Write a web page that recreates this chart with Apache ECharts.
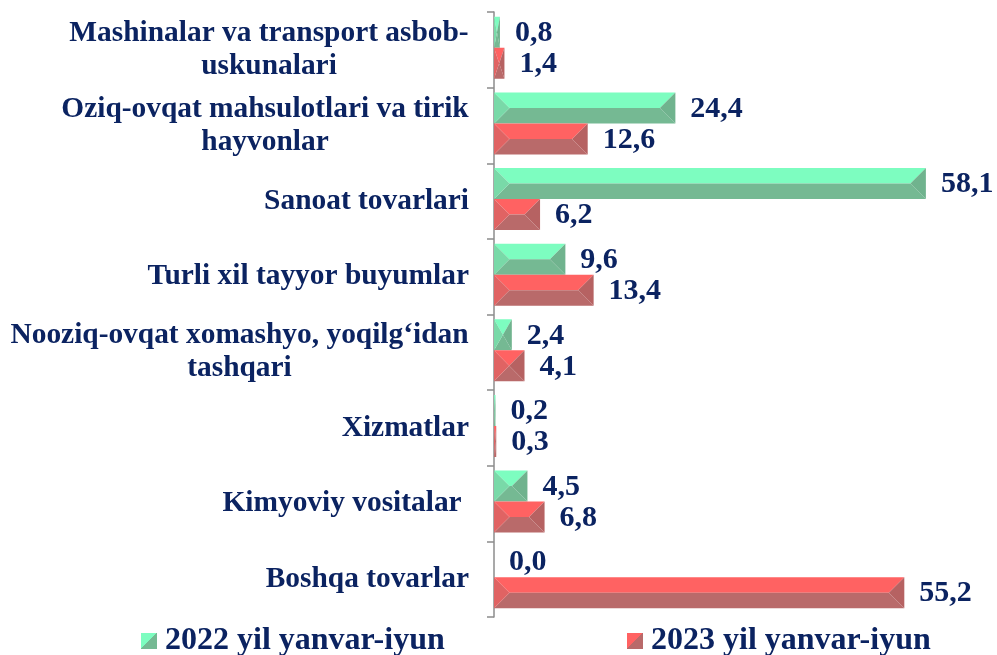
<!DOCTYPE html>
<html>
<head>
    <meta charset="utf-8">
    <title>Import tarkibi</title>
    <script src="https://cdn.jsdelivr.net/npm/echarts@6/dist/echarts.min.js"></script>
    <style>
        * {
            margin: 0;
            padding: 0
        }

        html, body {
            width: 100%;
            height: 100%;
            background: #fff;
        }

        #main {
            width: 997px;
            height: 655px;
        }
    </style>
</head>
<body>
<div id="main"></div>
<script type="text/javascript">
    /*-------------------- data -----------------------------*/
    var categories = [
        'Mashinalar va transport asbob-\nuskunalari',
        'Oziq-ovqat mahsulotlari va tirik\nhayvonlar',
        'Sanoat tovarlari',
        'Turli xil tayyor buyumlar',
        'Nooziq-ovqat xomashyo, yoqilg‘idan\ntashqari',
        'Xizmatlar',
        'Kimyoviy vositalar ',
        'Boshqa tovarlar'
    ];
    var seriesNames = ['2022 yil yanvar-iyun', '2023 yil yanvar-iyun'];
    var values2022 = [0.8, 24.4, 58.1, 9.6, 2.4, 0.2, 4.5, 0.0];
    var values2023 = [1.4, 12.6, 6.2, 13.4, 4.1, 0.3, 6.8, 55.2];

    var NAVY = '#0b2361';
    var FONT = '"Liberation Serif", "Times New Roman", serif';
    var CAT_SIZE = 29.4;

    // bevel colours: top, bottom, left, right
    var bevel = [
        {top: '#7dfdc0', bottom: '#75b993', left: '#79d9a8', right: '#70b38e'},
        {top: '#ff6262', bottom: '#b96a6a', left: '#e06363', right: '#b66262'}
    ];

    // measure the first line of wrapped labels so the second line can be centred under it
    var ctx = document.createElement('canvas').getContext('2d');
    ctx.font = 'bold ' + CAT_SIZE + 'px ' + FONT;
    var rich = {};
    categories.forEach(function (c, i) {
        var lines = c.split('\n');
        if (lines.length > 1) {
            rich['m' + i] = {
                width: Math.ceil(ctx.measureText(lines[0]).width),
                align: 'center',
                fontSize: CAT_SIZE,
                fontWeight: 'bold',
                fontFamily: FONT,
                color: NAVY,
                lineHeight: 33
            };
        }
    });

    function fmt(v) {
        return v.toFixed(1).replace('.', ',');
    }

    // bar drawn as a bevelled block like the office "3-D" style
    function renderItem(params, api) {
        var cat = api.value(0);
        var val = api.value(1);
        var start = api.coord([0, cat]);
        var end = api.coord([val, cat]);
        var band = api.size([0, 1])[1];
        var h = band * 0.41;
        var shift = 2;
        var y0, y1;
        if (params.seriesIndex === 0) {
            y0 = start[1] - h - shift;
            y1 = start[1] - shift;
        } else {
            y0 = start[1] - shift;
            y1 = start[1] + h - shift;
        }
        var x0 = start[0], x1 = end[0];
        var ym = (y0 + y1) / 2;
        var b = Math.min(h / 2, (x1 - x0) / 2);
        var c = bevel[params.seriesIndex];
        var children = [];
        if (x1 - x0 > 0.1) {
            children.push(
                {type: 'polygon', shape: {points: [[x0, y0], [x1, y0], [x1 - b, ym], [x0 + b, ym]]}, style: {fill: c.top}},
                {type: 'polygon', shape: {points: [[x0 + b, ym], [x1 - b, ym], [x1, y1], [x0, y1]]}, style: {fill: c.bottom}},
                {type: 'polygon', shape: {points: [[x0, y0], [x0 + b, ym], [x0, y1]]}, style: {fill: c.left}},
                {type: 'polygon', shape: {points: [[x1, y0], [x1, y1], [x1 - b, ym]]}, style: {fill: c.right}}
            );
        }
        children.push({
            type: 'text',
            style: {
                x: x1 + 15,
                y: ym + 1,
                text: fmt(val),
                fill: NAVY,
                font: 'bold 30px ' + FONT,
                textAlign: 'left',
                textVerticalAlign: 'middle'
            }
        });
        return {type: 'group', children: children};
    }

    function legendColor(c) {
        return {
            type: 'linear', x: 0, y: 0, x2: 1, y2: 1,
            colorStops: [
                {offset: 0, color: c.top},
                {offset: 0.5, color: c.top},
                {offset: 0.5, color: c.bottom},
                {offset: 1, color: c.bottom}
            ]
        };
    }

    var legendBase = {
        icon: 'rect',
        itemWidth: 16,
        itemHeight: 16,
        top: 620,
        textStyle: {
            fontSize: 32,
            fontWeight: 'bold',
            fontFamily: FONT,
            color: NAVY,
            padding: [0, 0, 0, 3]
        }
    };

    var chart = echarts.init(document.getElementById('main'));
    chart.setOption({
        animation: false,
        grid: {
            left: 494,
            right: 57,
            top: 12,
            bottom: 38
        },
        legend: [
            Object.assign({}, legendBase, {left: 136, data: [seriesNames[0]]}),
            Object.assign({}, legendBase, {left: 622, data: [seriesNames[1]]})
        ],
        xAxis: {
            type: 'value',
            min: 0,
            max: 60,
            show: false
        },
        yAxis: {
            type: 'category',
            inverse: true,
            data: categories,
            axisLine: {show: true, lineStyle: {color: '#8c8c8c', width: 1.5}},
            axisTick: {show: true, inside: false, length: 7, lineStyle: {color: '#8c8c8c', width: 1.5}},
            axisLabel: {
                margin: 25,
                fontSize: CAT_SIZE,
                fontWeight: 'bold',
                fontFamily: FONT,
                color: NAVY,
                lineHeight: 33,
                rich: rich,
                formatter: function (value, index) {
                    var lines = value.split('\n');
                    if (lines.length > 1) {
                        return lines.map(function (l) {
                            return '{m' + index + '|' + l + '}';
                        }).join('\n');
                    }
                    return value;
                }
            }
        },
        series: [
            {
                name: seriesNames[0],
                type: 'custom',
                renderItem: renderItem,
                itemStyle: {color: legendColor(bevel[0])},
                encode: {x: 1, y: 0},
                data: values2022.map(function (v, i) {
                    return [i, v];
                })
            },
            {
                name: seriesNames[1],
                type: 'custom',
                renderItem: renderItem,
                itemStyle: {color: legendColor(bevel[1])},
                encode: {x: 1, y: 0},
                data: values2023.map(function (v, i) {
                    return [i, v];
                })
            }
        ]
    });
</script>
</body>
</html>
